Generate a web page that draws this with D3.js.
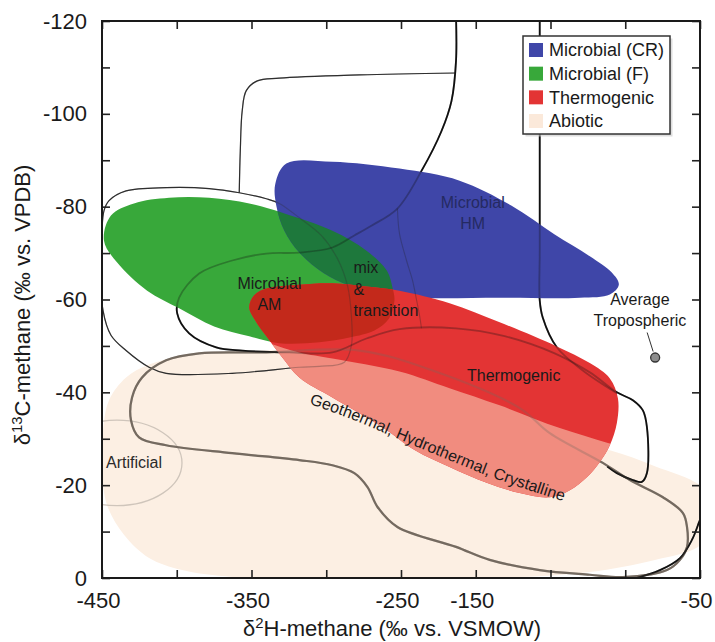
<!DOCTYPE html>
<html>
<head>
<meta charset="utf-8">
<script src="https://cdn.jsdelivr.net/npm/d3@7"></script>
<style>
body { margin: 0; background: #fff; }
svg { font-family: "Liberation Sans", Arial, sans-serif; }
</style>
</head>
<body>
<script>
// methane genetic diagram: d13C vs d2H

var width = 715, height = 642;
var plotLeft = 102, plotRight = 700, plotTop = 21, plotBottom = 578;

// axis ticks
var xTicks = [-450, -400, -350, -300, -250, -200, -150, -100, -50];
var xLabelAt = [-450, -350, -250, -200, -50];
var xLabelText = ["-450", "-350", "-250", "-150", "-50"];
var yTicks = [-120, -110, -100, -90, -80, -70, -60, -50, -40, -30, -20, -10, 0];
var yLabelAt = [-120, -100, -80, -60, -40, -20, 0];

// legend
var legendNames = ["Microbial (CR)", "Microbial (F)", "Thermogenic", "Abiotic"];

// fields  [d2H, d13C]
var microbialCR = [
	[-326.7, -89.3], [-295.9, -89.7], [-251, -88.2], [-210.8, -85.6], [-176, -80.2],
	[-147.2, -74.0], [-123.7, -69.3], [-109, -65.8], [-104.3, -63.2], [-110.3, -61.1],
	[-130.4, -60.4], [-184, -60.4], [-237.6, -60.4], [-261, -61.3], [-284.5, -63.0],
	[-301.3, -65.6], [-318, -70.1], [-328, -74.8], [-333.4, -80.2], [-334.1, -84.9]
];
var microbialF = [
	[-351.5, -80.7], [-329.4, -78.7], [-295.9, -74.8], [-273.1, -70.5], [-259.4, -66.2],
	[-255.7, -62.6], [-254.4, -59.8], [-258, -55.9], [-267.8, -53.3], [-284.5, -51.8],
	[-304.6, -50.8], [-331.4, -50.6], [-351.5, -52.1], [-375, -54.2], [-398.4, -58.1],
	[-419.8, -61.9], [-440, -68.0], [-448.7, -72.7], [-444, -78.1], [-428.6, -80.7],
	[-405.1, -81.9], [-378.3, -81.9]
];
var thermogenic = [
	[-351.5, -58.3], [-348.2, -60.9], [-339.4, -62.4], [-318, -63.2], [-295.9, -63.5],
	[-273.1, -62.8], [-251, -61.9], [-217.5, -59.2], [-184, -55.1], [-145.8, -49.9],
	[-123.7, -46.3], [-110.3, -43.0], [-104.9, -38.7], [-105.6, -33.4], [-110.3, -28.6],
	[-117, -25.0], [-125.7, -21.7], [-137.1, -18.9], [-150.5, -17.4], [-170.6, -18.3],
	[-192.7, -20.5], [-217.5, -23.9], [-240.6, -27.5], [-262.4, -32.5], [-295.9, -38.9],
	[-318, -43.2], [-329.4, -47.5], [-339.4, -51.8], [-347.5, -55.5]
];
// lower (geothermal / hydrothermal / crystalline) part of the thermogenic field
var geothermalSplit = [
	[-358.2, -52.9], [-338.1, -50.6], [-318, -48.6], [-295.9, -47.3], [-251, -44.5],
	[-217.5, -40.9], [-184, -37.2], [-143.8, -32.3], [-111.6, -29.1], [-83.5, -26.5]
];
var abiotic = [
	[-445.3, -38.3], [-433.9, -43.2], [-418.5, -46.0], [-396.4, -47.8], [-362.9, -48.6],
	[-331.4, -49.0], [-291.2, -47.3], [-237.6, -41.5], [-184, -34.4], [-143.8, -29.7],
	[-110.3, -27.5], [-80.2, -24.1], [-50, -20.0], [-40, -15.7], [-42, -10.3],
	[-51.4, -6.7], [-80.2, -3.9], [-123.7, -1.3], [-170.6, -0.2], [-237.6, 0.4],
	[-318, 0.4], [-362.9, -0.2], [-396.4, -1.7], [-418.5, -4.3], [-435.3, -9.3],
	[-446.6, -15.7], [-450, -23.2], [-449.3, -31.8]
];
var artificialCenter = [-440, -24.8];
var artificialRadius = [43.5, 9.2];

// outline curves
var outlineRound = [
	[-445.3, -81.3], [-433.9, -83.4], [-407.1, -84.1], [-378.3, -83.9], [-358.2, -83.0],
	[-340.1, -81.7], [-331.4, -80.7], [-318, -77.6], [-303.3, -73.8], [-292.5, -68.8],
	[-285.8, -63.0], [-283.2, -56.6], [-283.2, -50.1], [-287.9, -46.5], [-304.6, -45.6],
	[-318, -45.4], [-362.9, -44.1], [-407.1, -44.1], [-418.5, -45.4], [-433.9, -49.0],
	[-444, -52.3], [-449.3, -57.6], [-450.7, -66.2], [-450, -74.8], [-448.7, -79.1]
];
var outlineStep = [
	[-358.2, -83.0], [-357.5, -92.0], [-356.2, -100.7], [-353.5, -105.0], [-346.1, -107.1],
	[-331.4, -107.7], [-277.8, -108.4], [-213.2, -108.8]
];
var outlineAM = [
	[-213.2, -121], [-213.2, -111.4], [-216.2, -102.8], [-222.9, -96.3], [-236.3, -87.7],
	[-252.4, -79.6], [-269.8, -75.9], [-281.2, -73.8], [-295.9, -71.2], [-318, -70.1],
	[-340.1, -69.9], [-362.9, -68.4], [-385, -65.6], [-398.4, -60.4], [-399.7, -57.0],
	[-391.7, -52.7], [-373.6, -49.7], [-356.2, -49.0], [-324.7, -48.6], [-295.9, -48.6],
	[-273.1, -51.6], [-251, -53.6], [-213.2, -53.8], [-180.7, -52.1], [-147.2, -48.4],
	[-123.7, -44.3], [-105.6, -40.0], [-94.9, -38.3], [-88.2, -36.1], [-85.5, -32.5],
	[-85.5, -22.6], [-88.9, -20.7], [-94.9, -21.1], [-105.6, -22.6], [-112, -24]
];
var outlineHM = [
	[-252.4, -79.6], [-251, -74.2], [-246.3, -68.4], [-242.3, -64.1], [-239.9, -60.4],
	[-237.6, -56.6], [-236.3, -53.8]
];
var outlineCR = [
	[-157.2, -121], [-157.2, -92.0], [-157.2, -70.5], [-157.2, -59.8], [-155.2, -56.1],
	[-145.8, -49.7], [-128.4, -44.7], [-105.6, -39.8]
];
var outlineAbiotic = [
	[-407.1, -46.9], [-385, -48.4], [-340.1, -48.6], [-277.8, -49.0], [-228.9, -44.7],
	[-170.6, -36.6], [-150.5, -31.2], [-115, -24.8], [-96.9, -21.1], [-74.8, -17.4],
	[-61.4, -14.0], [-58.7, -11.0], [-58.7, -6.7], [-63.4, -3.9], [-72.1, -1.7],
	[-101.6, -0.2], [-123.7, -0.7], [-157.2, -1.7], [-190.7, -3.9], [-213.2, -6.7],
	[-252.4, -11.0], [-265.7, -15.3], [-272.4, -19.6], [-281.2, -22.6], [-295.9, -24.3],
	[-318, -25.4], [-362.9, -26.9], [-407.1, -28.6], [-425.2, -30.3], [-430.6, -34.0],
	[-429.9, -38.9], [-423.2, -43.2]
];
var outlineCorner = [
	[-96.9, 0.4], [-76.8, -1.7], [-63.4, -4.3], [-55.4, -8.2], [-50, -12.5], [-45, -16]
];

var tropospheric = [-80, -47.5];

// labels placed in the diagram
var fieldLabels = [["Microbial", "HM"], ["Microbial", "AM"], ["Thermogenic"], ["Average", "Tropospheric"]];
var fieldLabelAt = [[-202, -80.9], [-338, -63.5], [-174.6, -43.7], [-90.2, -60.0]];
var mixLabel = ["mix", "&", "transition"];
var mixLabelAt = [-281.8, -66.9];
var artificialLabelAt = [-447.3, -24.8];
var geoLabel = "Geothermal, Hydrothermal, Crystalline";
var geoLabelPath = [
	[-314.7, -37.9], [-284.5, -34.4], [-254.4, -30.3], [-220.9, -25.8], [-187.4, -21.5],
	[-160.6, -18.5], [-138.4, -16.2]
];

var colors = {
	cr: "#3f46a8", f: "#38a83a", thermo: "#e33434", abiotic: "#fcefe3",
	crF: "#1e783c", thermoF: "#c3291b", geo: "#f18c7f", legendAbiotic: "#fbe9da"
};
var legendColors = [colors.cr, colors.f, colors.thermo, colors.legendAbiotic];

var xScale = d3.scaleLinear().domain([-450, -50]).range([plotLeft, plotRight]);
var yScale = d3.scaleLinear().domain([0, -120]).range([plotBottom, plotTop]);

function px(d) { return xScale(d[0]); }
function py(d) { return yScale(d[1]); }
function shapePath(pts) {
	return d3.line().x(px).y(py).curve(d3.curveCatmullRomClosed.alpha(0.5))(pts);
}
function openPath(pts) {
	return d3.line().x(px).y(py).curve(d3.curveCatmullRom.alpha(0.5))(pts);
}

var svg = d3.select(document.body)
	.append("svg")
	.attr("width", width)
	.attr("height", height);

var defs = svg.append("defs");
defs.append("clipPath").attr("id", "plot-clip")
	.append("rect")
	.attr("x", plotLeft).attr("y", plotTop)
	.attr("width", plotRight - plotLeft).attr("height", plotBottom - plotTop);
defs.append("clipPath").attr("id", "cr-clip")
	.append("path").attr("d", shapePath(microbialCR));
defs.append("clipPath").attr("id", "f-clip")
	.append("path").attr("d", shapePath(microbialF));
var belowSplit = openPath(geothermalSplit)
	+ "L" + xScale(-40) + "," + yScale(5)
	+ "L" + xScale(-380) + "," + yScale(5) + "Z";
defs.append("clipPath").attr("id", "geo-clip")
	.append("path").attr("d", belowSplit);
defs.append("path").attr("id", "geo-path").attr("d", openPath(geoLabelPath));

var plot = svg.append("g").attr("clip-path", "url(#plot-clip)");

// abiotic field
plot.append("path")
	.attr("d", shapePath(abiotic))
	.attr("fill", colors.abiotic);

// artificial
plot.append("ellipse")
	.attr("cx", xScale(artificialCenter[0]))
	.attr("cy", yScale(artificialCenter[1]))
	.attr("rx", xScale(artificialCenter[0] + artificialRadius[0]) - xScale(artificialCenter[0]))
	.attr("ry", yScale(artificialCenter[1]) - yScale(artificialCenter[1] - artificialRadius[1]))
	.attr("fill", "none")
	.attr("stroke", "#cfc5bb")
	.attr("stroke-width", 1.3);

function drawOutlines(g, alpha) {
	g.append("path").attr("d", shapePath(outlineRound))
		.attr("fill", "none").attr("stroke", "#2e2e2e").attr("stroke-width", 1.2).attr("stroke-opacity", alpha);
	g.append("path").attr("d", openPath(outlineStep))
		.attr("fill", "none").attr("stroke", "#2e2e2e").attr("stroke-width", 1.2).attr("stroke-opacity", alpha);
	g.append("path").attr("d", shapePath(outlineAbiotic))
		.attr("fill", "none").attr("stroke", "#756a60").attr("stroke-width", 2.2).attr("stroke-opacity", alpha);
	g.append("path").attr("d", openPath(outlineAM))
		.attr("fill", "none").attr("stroke", "#111").attr("stroke-width", 1.8).attr("stroke-opacity", alpha);
	g.append("path").attr("d", openPath(outlineHM))
		.attr("fill", "none").attr("stroke", "#222").attr("stroke-width", 1.1).attr("stroke-opacity", alpha);
	g.append("path").attr("d", openPath(outlineCR))
		.attr("fill", "none").attr("stroke", "#111").attr("stroke-width", 1.8).attr("stroke-opacity", alpha);
	g.append("path").attr("d", openPath(outlineCorner))
		.attr("fill", "none").attr("stroke", "#111").attr("stroke-width", 1.8).attr("stroke-opacity", alpha);
}

drawOutlines(plot.append("g"), 1);

// coloured fields
plot.append("path").attr("d", shapePath(microbialF)).attr("fill", colors.f);
plot.append("path").attr("d", shapePath(microbialCR)).attr("fill", colors.cr);
plot.append("g").attr("clip-path", "url(#cr-clip)")
	.append("path").attr("d", shapePath(microbialF)).attr("fill", colors.crF);
plot.append("path").attr("d", shapePath(thermogenic)).attr("fill", colors.thermo);
plot.append("g").attr("clip-path", "url(#f-clip)")
	.append("path").attr("d", shapePath(thermogenic)).attr("fill", colors.thermoF);
plot.append("g").attr("clip-path", "url(#geo-clip)")
	.append("path").attr("d", shapePath(thermogenic)).attr("fill", colors.geo);

// outlines seen through the fills
drawOutlines(plot.append("g"), 0.3);

// labels
var labelFont = 16;
fieldLabels.forEach(function (lines, i) {
	var t = plot.append("text")
		.attr("x", xScale(fieldLabelAt[i][0]))
		.attr("y", yScale(fieldLabelAt[i][1]))
		.attr("text-anchor", "middle")
		.attr("font-size", labelFont)
		.attr("fill", i == 0 ? "#252a62" : "#1a1a1a");
	lines.forEach(function (s, j) {
		t.append("tspan")
			.attr("x", xScale(fieldLabelAt[i][0]))
			.attr("dy", j == 0 ? "0.35em" : "1.33em")
			.text(s);
	});
});

var mix = plot.append("text")
	.attr("x", xScale(mixLabelAt[0]))
	.attr("y", yScale(mixLabelAt[1]))
	.attr("font-size", labelFont)
	.attr("fill", "#1a1a1a");
mixLabel.forEach(function (s, j) {
	mix.append("tspan")
		.attr("x", xScale(mixLabelAt[0]))
		.attr("dy", j == 0 ? "0.35em" : "1.35em")
		.text(s);
});

plot.append("text")
	.attr("x", xScale(artificialLabelAt[0]))
	.attr("y", yScale(artificialLabelAt[1]))
	.attr("dy", "0.35em")
	.attr("font-size", labelFont)
	.attr("fill", "#2a2a2a")
	.text("Artificial");

plot.append("text")
	.attr("font-size", labelFont)
	.attr("fill", "#1a1a1a")
	.append("textPath")
	.attr("href", "#geo-path")
	.attr("startOffset", "50%")
	.attr("text-anchor", "middle")
	.text(geoLabel);

// average tropospheric methane
plot.append("line")
	.attr("x1", xScale(tropospheric[0]) - 8)
	.attr("y1", yScale(tropospheric[1]) - 25)
	.attr("x2", xScale(tropospheric[0]) - 2)
	.attr("y2", yScale(tropospheric[1]) - 6)
	.attr("stroke", "#333")
	.attr("stroke-width", 1);
plot.append("circle")
	.attr("cx", xScale(tropospheric[0]))
	.attr("cy", yScale(tropospheric[1]))
	.attr("r", 4.5)
	.attr("fill", "#8c8c8c")
	.attr("stroke", "#333")
	.attr("stroke-width", 1.3);

// axes
var tickFont = 22;
var xAxis = d3.axisBottom(xScale)
	.tickValues(xTicks)
	.tickSizeInner(-8).tickSizeOuter(0).tickPadding(14)
	.tickFormat(function (d) {
		var i = xLabelAt.indexOf(d);
		return i < 0 ? "" : xLabelText[i];
	});
var yAxis = d3.axisLeft(yScale)
	.tickValues(yTicks)
	.tickSizeInner(-8).tickSizeOuter(0).tickPadding(15)
	.tickFormat(function (d) { return yLabelAt.indexOf(d) < 0 ? "" : String(d); });

function styleAxis(g) {
	g.select(".domain").remove();
	g.attr("font-size", tickFont).attr("font-family", "Liberation Sans, Arial, sans-serif");
	g.selectAll(".tick line").attr("stroke", "#222").attr("stroke-width", 1.6);
	g.selectAll(".tick text").attr("fill", "#1a1a1a");
}

svg.append("g").attr("transform", "translate(0," + plotBottom + ")").call(xAxis).call(styleAxis)
	.selectAll(".tick text").attr("dx", -4);
svg.append("g").attr("transform", "translate(" + plotLeft + ",0)").call(yAxis).call(styleAxis);
svg.append("g").attr("transform", "translate(0," + plotTop + ")")
	.call(d3.axisTop(xScale).tickValues(xTicks).tickSizeInner(-8).tickSizeOuter(0).tickFormat(""))
	.call(styleAxis);
svg.append("g").attr("transform", "translate(" + plotRight + ",0)")
	.call(d3.axisRight(yScale).tickValues(yTicks).tickSizeInner(-8).tickSizeOuter(0).tickFormat(""))
	.call(styleAxis);

svg.append("rect")
	.attr("x", plotLeft).attr("y", plotTop)
	.attr("width", plotRight - plotLeft).attr("height", plotBottom - plotTop)
	.attr("fill", "none")
	.attr("stroke", "#1a1a1a")
	.attr("stroke-width", 2);

// axis titles
var titleFont = 22;
var xTitle = svg.append("text")
	.attr("x", 392).attr("y", 636)
	.attr("text-anchor", "middle")
	.attr("font-size", titleFont)
	.attr("fill", "#1a1a1a");
xTitle.append("tspan").text("δ");
xTitle.append("tspan").attr("font-size", "0.68em").attr("baseline-shift", "super").text("2");
xTitle.append("tspan").text("H-methane (‰ vs. VSMOW)");

var yTitle = svg.append("text")
	.attr("transform", "translate(30,305) rotate(-90)")
	.attr("text-anchor", "middle")
	.attr("font-size", titleFont)
	.attr("fill", "#1a1a1a");
yTitle.append("tspan").text("δ");
yTitle.append("tspan").attr("font-size", "0.68em").attr("baseline-shift", "super").text("13");
yTitle.append("tspan").text("C-methane (‰ vs. VPDB)");

// legend
var legend = svg.append("g").attr("transform", "translate(523,36)");
legend.append("rect")
	.attr("x", 2.5).attr("y", 2.5).attr("width", 147).attr("height", 98)
	.attr("fill", "#c8c8c8").attr("opacity", 0.6);
legend.append("rect")
	.attr("width", 147).attr("height", 98)
	.attr("fill", "#fff")
	.attr("stroke", "#333")
	.attr("stroke-width", 1.5);
var rowScale = d3.scalePoint().domain(legendNames).range([14, 85]);
legendNames.forEach(function (name, i) {
	legend.append("rect")
		.attr("x", 6).attr("y", rowScale(name) - 7)
		.attr("width", 14).attr("height", 14)
		.attr("fill", legendColors[i]);
	legend.append("text")
		.attr("x", 26).attr("y", rowScale(name))
		.attr("dy", "0.35em")
		.attr("font-size", 18)
		.attr("fill", "#1a1a1a")
		.text(name);
});
</script>
</body>
</html>
